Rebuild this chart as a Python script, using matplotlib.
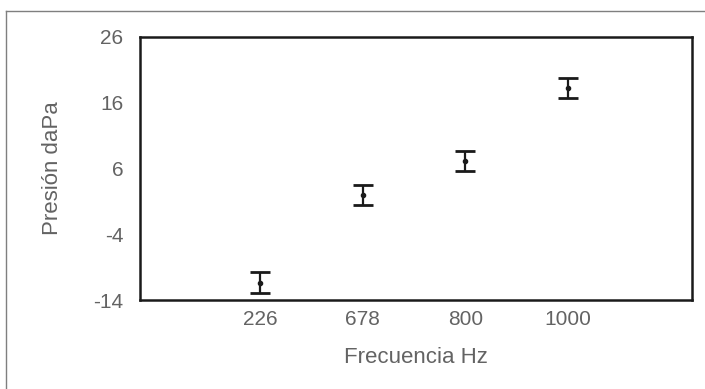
import matplotlib
matplotlib.use("Agg")
import matplotlib.pyplot as plt
from matplotlib.lines import Line2D

categories = ["226", "678", "800", "1000"]
values = [-11.4, 2.0, 7.1, 18.2]
errors = [1.6, 1.5, 1.5, 1.5]
yticks = [-14, -4, 6, 16, 26]

plt.rcParams['font.family'] = ['Liberation Sans', 'DejaVu Sans']
plt.rcParams['axes.unicode_minus'] = False
W, H = 705, 389
fig = plt.figure(figsize=(W/100, H/100), dpi=100)
ax = fig.add_axes([140/W, 1-300/H, (692-140)/W, (300-37)/H])

xs = [1, 2, 3, 4]
ax.errorbar(xs, values, yerr=errors, fmt='o', color='#1a1a1a', ms=3,
            capsize=7.5, elinewidth=1.6, capthick=2)
ax.set_xlim(-0.17, 5.21)
ax.set_ylim(-14, 26)
ax.set_yticks(yticks)
ax.set_xticks(xs)
ax.set_xticklabels(categories)
ax.tick_params(length=0, labelsize=15, colors='#636363')
ax.tick_params(axis='y', pad=12)
ax.tick_params(axis='x', pad=7)
for s in ax.spines.values():
    s.set_linewidth(1.8)
    s.set_color('#1a1a1a')
ax.set_xlabel("Frecuencia Hz", fontsize=16, color='#636363', labelpad=13)
ax.set_ylabel("Presión daPa", fontsize=16, color='#636363', labelpad=22)

fig.add_artist(Line2D([6/W, 1], [1-11/H, 1-11/H], color='#7f7f7f', lw=1))
fig.add_artist(Line2D([6/W, 6/W], [0, 1-11/H], color='#7f7f7f', lw=1))

fig.savefig("out.png", dpi=100)
